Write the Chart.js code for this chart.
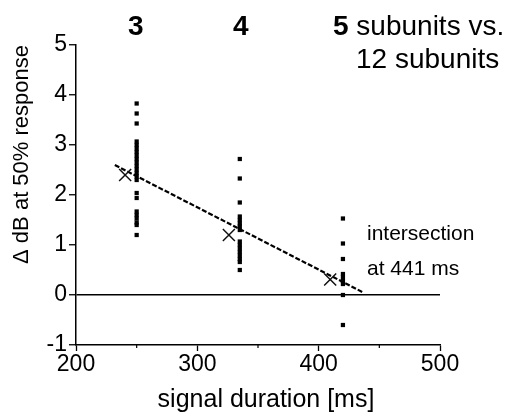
<!DOCTYPE html>
<html>
<head>
<meta charset="utf-8">
<script src="https://cdn.jsdelivr.net/npm/chart.js@4/dist/chart.umd.min.js"></script>
<style>
  html, body { margin: 0; padding: 0; background: #fff; }
  #wrap { width: 512px; height: 414px; }
</style>
</head>
<body>
<div id="wrap"><canvas id="chartCanvas" width="512" height="414"></canvas></div>
<script>
// signal durations (ms) of the three comparisons
const columnDurations = [250, 335, 420];
const columnLabels = ['3', '4', '5'];

// single threshold differences (dB) per comparison
const values3 = [3.83, 3.63, 3.43, 3.07, 3.0, 2.93, 2.86, 2.79, 2.72, 2.65, 2.58, 2.51, 2.44, 2.37, 2.3,
                 2.04, 1.94, 1.67, 1.6, 1.53, 1.45, 1.4, 1.2];
const values4 = [2.72, 2.33, 1.85, 1.57, 1.5, 1.43, 1.37, 1.3, 1.07, 1.0, 0.93, 0.86, 0.79, 0.72, 0.66, 0.5];
const values5 = [1.53, 1.03, 0.72, 0.42, 0.35, 0.28, 0.22, 0.0, -0.6];

// means (X) and regression line
const meanDurations = [240.5, 326, 409.5];
const meanValues = [2.4, 1.2, 0.31];
const fitDurations = [232, 436];
const fitValues = [2.6, 0.06];

const xMin = 200, xMax = 500, xStep = 50;
const yMin = -1, yMax = 5;

const FONT = '"Liberation Sans", Arial, Helvetica, sans-serif';
Chart.defaults.font.family = FONT;
Chart.defaults.color = '#000';

const dotData = [];
[values3, values4, values5].forEach((vals, i) => {
  vals.forEach(v => dotData.push({ x: columnDurations[i], y: v }));
});

const textPlugin = {
  id: 'figureText',
  afterDraw(chart) {
    const c = chart.ctx;
    const xs = chart.scales.x;
    const area = chart.chartArea;
    c.save();
    c.fillStyle = '#000';
    c.strokeStyle = '#000';

    // short minor ticks on the x axis
    c.lineWidth = 1.2;
    xs.ticks.forEach(t => {
      if (t.value % 100 !== 0) {
        const px = xs.getPixelForValue(t.value);
        c.beginPath();
        c.moveTo(px, area.bottom);
        c.lineTo(px, area.bottom + 3);
        c.stroke();
      }
    });

    c.textBaseline = 'alphabetic';
    c.textAlign = 'center';
    c.font = 'bold 28px ' + FONT;
    c.fillText(columnLabels[0], xs.getPixelForValue(columnDurations[0]) - 1, 35);
    c.fillText(columnLabels[1], xs.getPixelForValue(columnDurations[1]) + 1, 35);

    c.textAlign = 'left';
    c.fillText(columnLabels[2], 333, 35);
    const w5 = c.measureText(columnLabels[2]).width;
    c.font = '28px ' + FONT;
    c.fillText(' subunits vs.', 333 + w5, 35);
    c.fillText('12 subunits', 356, 68);

    c.font = '21px ' + FONT;
    c.fillText('intersection', 367, 240);
    c.fillText('at 441 ms', 367, 275);

    // x axis title
    c.textAlign = 'center';
    c.font = '25px ' + FONT;
    c.fillText('signal duration [ms]', 266, 407);
    c.restore();
  }
};

new Chart(document.getElementById('chartCanvas').getContext('2d'), {
  type: 'scatter',
  data: {
    datasets: [
      {
        label: 'single values',
        data: dotData,
        pointStyle: 'rect',
        pointRadius: 3,
        backgroundColor: '#000',
        borderColor: '#000',
        borderWidth: 0
      },
      {
        label: 'mean',
        data: meanDurations.map((d, i) => ({ x: d, y: meanValues[i] })),
        pointStyle: 'crossRot',
        pointRadius: 8.5,
        borderColor: '#111',
        borderWidth: 1.5
      },
      {
        label: 'fit',
        data: fitDurations.map((d, i) => ({ x: d, y: fitValues[i] })),
        showLine: true,
        pointRadius: 0,
        borderColor: '#000',
        borderWidth: 2.2,
        borderDash: [5, 2]
      }
    ]
  },
  options: {
    responsive: false,
    animation: false,
    devicePixelRatio: 1,
    layout: { padding: { left: 0, top: 45, right: 72, bottom: 0 } },
    plugins: { legend: { display: false }, tooltip: { enabled: false } },
    scales: {
      x: {
        type: 'linear',
        min: xMin,
        max: xMax,
        afterFit: s => { s.height = 69; },
        ticks: {
          stepSize: xStep,
          padding: 0,
          autoSkip: false,
          maxRotation: 0,
          font: { size: 23 },
          color: '#000',
          callback: v => (v % 100 === 0 ? String(v) : '')
        },
        grid: {
          drawOnChartArea: false,
          tickLength: 6,
          tickWidth: 1.3,
          tickColor: ctx => (ctx.tick && ctx.tick.value % 100 === 0 ? '#000' : 'rgba(0,0,0,0)')
        },
        border: { display: true, color: '#000', width: 1.5 },
        title: { display: false }
      },
      y: {
        min: yMin,
        max: yMax,
        afterFit: s => { s.width = 76; },
        ticks: {
          stepSize: 1,
          padding: 2,
          font: { size: 23 },
          color: '#000'
        },
        grid: {
          drawOnChartArea: true,
          tickLength: 7,
          tickWidth: 1.3,
          tickColor: '#000',
          lineWidth: 1.5,
          color: ctx => (ctx.tick && ctx.tick.value === 0 ? '#000' : 'rgba(0,0,0,0)')
        },
        border: { display: true, color: '#000', width: 1.5 },
        title: {
          display: true,
          text: 'Δ dB at 50% response',
          align: 'end',
          font: { size: 22 },
          color: '#000',
          padding: { top: 9, bottom: 0 }
        }
      }
    }
  },
  plugins: [textPlugin]
});
</script>
</body>
</html>
